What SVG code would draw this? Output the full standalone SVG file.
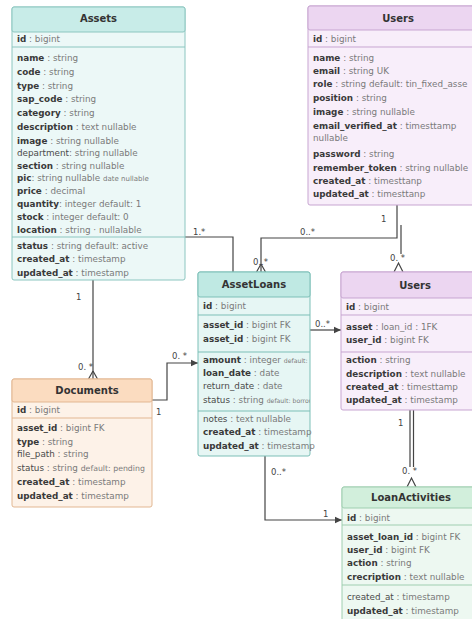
<svg xmlns="http://www.w3.org/2000/svg" width="472" height="619" viewBox="0 0 472 619">
<defs>
<style>
text{font-family:"DejaVu Sans","Liberation Sans",sans-serif;font-size:8.8px}
.n{font-weight:bold;fill:#3a3a3a}
.r{fill:#4a4a4a}
.t{fill:#7a7a7a}
.s{font-size:6.2px;fill:#7a7a7a}
.h{font-size:10px;font-weight:bold;fill:#333;text-anchor:middle}
.lbl{font-size:8.5px;fill:#444}
.teal .box{fill:#ecf8f7;stroke:#8cc6c0}
.teal .hd{fill:#c8ece8;stroke:#8cc6c0}
.teal line{stroke:#8cc6c0}
.al .box{fill:#e6f6f4;stroke:#7cbfb7}
.al .hd{fill:#bfe9e3;stroke:#7cbfb7}
.al line{stroke:#7cbfb7}
.pur .box{fill:#f8eefa;stroke:#c7a5d1}
.pur .hd{fill:#ecd6f1;stroke:#c7a5d1}
.pur line{stroke:#c7a5d1}
.org .box{fill:#fdf2e8;stroke:#e2b792}
.org .hd{fill:#fbdcc0;stroke:#e2b792}
.org line{stroke:#e2b792}
.grn .box{fill:#edf8f1;stroke:#9fceb0}
.grn .hd{fill:#d2efdc;stroke:#9fceb0}
.grn line{stroke:#9fceb0}
.box,.hd{stroke-width:1}
.c{fill:none;stroke:#444;stroke-width:1.2}
</style>
<marker id="arr" markerUnits="userSpaceOnUse" viewBox="-8 -4 9 8" refX="0" refY="0" markerWidth="9" markerHeight="8" orient="auto">
<path d="M0,0 L-7,-3.2 L-7,3.2 z" fill="#444"/>
</marker>
<marker id="crow" markerUnits="userSpaceOnUse" viewBox="-10 -6 12 12" refX="0" refY="0" markerWidth="12" markerHeight="12" orient="auto">
<path d="M-8,0 L0,-4.5 M-8,0 L0,4.5" fill="none" stroke="#444" stroke-width="1.2"/>
</marker>
<clipPath id="clipAL"><rect x="198" y="272" width="112" height="184"/></clipPath>
</defs>
<rect width="472" height="619" fill="#ffffff"/>

<g id="connectors">
<polyline class="c" points="185,237 233,237 233,272"/>
<text class="lbl" x="193" y="235">1.*</text>
<polyline class="c" points="397,205 397,238 261,238 261,272" marker-end="url(#crow)"/>
<text class="lbl" x="300" y="235">0..*</text>
<text class="lbl" x="253" y="265">0..*</text>
<line class="c" x1="401" y1="225" x2="401" y2="254"/>
<polyline class="c" points="394,272 398.5,263 403,272"/>
<text class="lbl" x="381" y="222">1</text>
<text class="lbl" x="390" y="261">0. *</text>
<line class="c" x1="310" y1="330" x2="341" y2="330" marker-end="url(#arr)"/>
<text class="lbl" x="315" y="327">0..*</text>
<line class="c" x1="410" y1="410" x2="410" y2="467"/>
<line class="c" x1="413.5" y1="410" x2="413.5" y2="467"/>
<polyline class="c" points="407,487 411.5,478 416,487"/>
<text class="lbl" x="398" y="426">1</text>
<text class="lbl" x="402" y="474">0. *</text>
<polyline class="c" points="265,456 265,520 342,520" marker-end="url(#arr)"/>
<text class="lbl" x="271" y="475">0..*</text>
<text class="lbl" x="323" y="517">1</text>
<line class="c" x1="93" y1="280" x2="93" y2="379" marker-end="url(#crow)"/>
<text class="lbl" x="76" y="300">1</text>
<text class="lbl" x="78" y="370">0. *</text>
<polyline class="c" points="152,400 167,400 167,363 198,363" marker-end="url(#arr)"/>
<text class="lbl" x="172" y="359">0. *</text>
<text class="lbl" x="156" y="415">1</text>
</g>

<g id="assets" class="teal">
<rect class="box" x="12" y="7" width="173" height="273" rx="2"/>
<rect class="hd" x="12" y="7" width="173" height="25" rx="2"/>
<text class="h" x="98.5" y="22">Assets</text>
<text x="17" y="42"><tspan class="n">id</tspan><tspan class="t"> : bigint</tspan></text>
<line x1="12" y1="47" x2="185" y2="47"/>
<text x="17" y="61"><tspan class="n">name</tspan><tspan class="t"> : string</tspan></text>
<text x="17" y="75"><tspan class="n">code</tspan><tspan class="t"> : string</tspan></text>
<text x="17" y="89"><tspan class="n">type</tspan><tspan class="t"> : string</tspan></text>
<text x="17" y="102"><tspan class="n">sap_code</tspan><tspan class="t"> : string</tspan></text>
<text x="17" y="116"><tspan class="n">category</tspan><tspan class="t"> : string</tspan></text>
<text x="17" y="130"><tspan class="n">description</tspan><tspan class="t"> : text nullable</tspan></text>
<text x="17" y="144"><tspan class="n">image</tspan><tspan class="t"> : string nullable</tspan></text>
<text x="17" y="156"><tspan class="r">department</tspan><tspan class="t">: string nullable</tspan></text>
<text x="17" y="169"><tspan class="n">section</tspan><tspan class="t"> : string nullable</tspan></text>
<text x="17" y="181"><tspan class="n">pic</tspan><tspan class="t">: string  nullable </tspan><tspan class="s" style="font-size:7px">date nullable</tspan></text>
<text x="17" y="194"><tspan class="n">price</tspan><tspan class="t"> : decimal</tspan></text>
<text x="17" y="207"><tspan class="n">quantity</tspan><tspan class="t">: integer  default: 1</tspan></text>
<text x="17" y="220"><tspan class="n">stock</tspan><tspan class="t"> : integer  default:  0</tspan></text>
<text x="17" y="233"><tspan class="n">location</tspan><tspan class="t"> : string · nullalable</tspan></text>
<line x1="12" y1="237" x2="185" y2="237"/>
<text x="17" y="249"><tspan class="n">status</tspan><tspan class="t"> : string  default: active</tspan></text>
<text x="17" y="262"><tspan class="n">created_at</tspan><tspan class="t"> : timestamp</tspan></text>
<text x="17" y="276"><tspan class="n">updated_at</tspan><tspan class="t"> : timestamp</tspan></text>
</g>

<g id="users-top" class="pur">
<rect class="box" x="308" y="6" width="180" height="199" rx="2"/>
<rect class="hd" x="308" y="6" width="180" height="24" rx="2"/>
<text class="h" x="398" y="22">Users</text>
<text x="313" y="42"><tspan class="n">id</tspan><tspan class="t"> : bigint</tspan></text>
<line x1="308" y1="47" x2="488" y2="47"/>
<text x="313" y="61"><tspan class="n">name</tspan><tspan class="t"> : string</tspan></text>
<text x="313" y="74"><tspan class="n">email</tspan><tspan class="t"> : string UK</tspan></text>
<text x="313" y="87"><tspan class="n">role</tspan><tspan class="t"> : string default: tin_fixed_asse</tspan></text>
<text x="313" y="101"><tspan class="n">position</tspan><tspan class="t"> : string</tspan></text>
<text x="313" y="115"><tspan class="n">image</tspan><tspan class="t"> : string  nullable</tspan></text>
<text x="313" y="129"><tspan class="n">email_verified_at</tspan><tspan class="t"> : timesttamp</tspan></text>
<text x="313" y="141"><tspan class="t">nullable</tspan></text>
<text x="313" y="157"><tspan class="n">password</tspan><tspan class="t"> : string</tspan></text>
<text x="313" y="171"><tspan class="n">remember_token</tspan><tspan class="t"> : string nullable</tspan></text>
<text x="313" y="184"><tspan class="n">created_at</tspan><tspan class="t"> : timesttanp</tspan></text>
<text x="313" y="197"><tspan class="n">updated_at</tspan><tspan class="t"> : timesttanp</tspan></text>
</g>

<g id="assetloans" class="al">
<rect class="box" x="198" y="272" width="112" height="184" rx="2"/>
<rect class="hd" x="198" y="272" width="112" height="25" rx="2"/>
<text class="h" x="254" y="288">AssetLoans</text>
<text x="203" y="309"><tspan class="n">id</tspan><tspan class="t"> : bigint</tspan></text>
<line x1="198" y1="315" x2="310" y2="315"/>
<text x="203" y="328"><tspan class="n">asset_id</tspan><tspan class="t"> : bigint FK</tspan></text>
<text x="203" y="342"><tspan class="n">asset_id</tspan><tspan class="t"> : bigint FK</tspan></text>
<line x1="198" y1="352" x2="310" y2="352"/>
<g clip-path="url(#clipAL)">
<text x="203" y="363"><tspan class="n">amount</tspan><tspan class="t"> : integer </tspan><tspan class="s">default:</tspan></text>
<text x="203" y="376"><tspan class="n">loan_date</tspan><tspan class="t"> : date</tspan></text>
<text x="203" y="389"><tspan class="r">return_date</tspan><tspan class="t"> : date</tspan></text>
<text x="203" y="403"><tspan class="r">status</tspan><tspan class="t"> : string </tspan><tspan class="s">default: borrowed</tspan></text>
</g>
<line x1="198" y1="411" x2="310" y2="411"/>
<text x="203" y="422"><tspan class="r">notes</tspan><tspan class="t"> : text nullable</tspan></text>
<text x="203" y="435"><tspan class="n">created_at</tspan><tspan class="t"> : timestamp</tspan></text>
<text x="203" y="449"><tspan class="n">updated_at</tspan><tspan class="t"> : timestamp</tspan></text>
</g>

<g id="users-right" class="pur">
<rect class="box" x="341" y="272" width="150" height="138" rx="2"/>
<rect class="hd" x="341" y="272" width="150" height="26" rx="2"/>
<text class="h" x="415" y="289">Users</text>
<text x="346" y="310"><tspan class="n">id</tspan><tspan class="t"> : bigint</tspan></text>
<line x1="341" y1="315" x2="491" y2="315"/>
<text x="346" y="330"><tspan class="n">asset</tspan><tspan class="t"> : loan_id : 1FK</tspan></text>
<text x="346" y="343"><tspan class="n">user_id</tspan><tspan class="t"> : bigint FK</tspan></text>
<line x1="341" y1="352" x2="491" y2="352"/>
<text x="346" y="363"><tspan class="n">action</tspan><tspan class="t"> : string</tspan></text>
<text x="346" y="377"><tspan class="n">description</tspan><tspan class="t"> : text nullable</tspan></text>
<text x="346" y="390"><tspan class="n">created_at</tspan><tspan class="t"> : timesttamp</tspan></text>
<text x="346" y="403"><tspan class="n">updated_at</tspan><tspan class="t"> : timestamp</tspan></text>
</g>

<g id="documents" class="org">
<rect class="box" x="12" y="379" width="140" height="128" rx="2"/>
<rect class="hd" x="12" y="379" width="140" height="23" rx="2"/>
<text class="h" x="87" y="394">Documents</text>
<text x="17" y="413"><tspan class="n">id</tspan><tspan class="t"> : bigint</tspan></text>
<line x1="12" y1="418" x2="152" y2="418"/>
<text x="17" y="431"><tspan class="n">asset_id</tspan><tspan class="t"> : bigint FK</tspan></text>
<text x="17" y="445"><tspan class="n">type</tspan><tspan class="t"> : string</tspan></text>
<text x="17" y="457"><tspan class="r">file_path</tspan><tspan class="t"> : string</tspan></text>
<text x="17" y="471"><tspan class="r">status</tspan><tspan class="t"> : string </tspan><tspan class="t" style="font-size:7.8px">default: pending</tspan></text>
<text x="17" y="485"><tspan class="n">created_at</tspan><tspan class="t"> : timestamp</tspan></text>
<text x="17" y="499"><tspan class="n">updated_at</tspan><tspan class="t"> : timestamp</tspan></text>
</g>

<g id="loanactivities" class="grn">
<rect class="box" x="342" y="487" width="150" height="150" rx="2"/>
<rect class="hd" x="342" y="487" width="150" height="21" rx="2"/>
<text class="h" x="411" y="501">LoanActivities</text>
<text x="347" y="521"><tspan class="n">id</tspan><tspan class="t"> : bigint</tspan></text>
<line x1="342" y1="525" x2="492" y2="525"/>
<text x="347" y="540"><tspan class="n">asset_loan_id</tspan><tspan class="t"> : bigint  FK</tspan></text>
<text x="347" y="553"><tspan class="n">user_id</tspan><tspan class="t"> : bigint FK</tspan></text>
<text x="347" y="566"><tspan class="n">action</tspan><tspan class="t"> : string</tspan></text>
<text x="347" y="580"><tspan class="n">crecription</tspan><tspan class="t"> : text nullable</tspan></text>
<line x1="342" y1="585" x2="492" y2="585"/>
<text x="347" y="600"><tspan class="r">created_at</tspan><tspan class="t"> : timestamp</tspan></text>
<text x="347" y="614"><tspan class="n">updated_at</tspan><tspan class="t"> : timestamp</tspan></text>
</g>
</svg>
